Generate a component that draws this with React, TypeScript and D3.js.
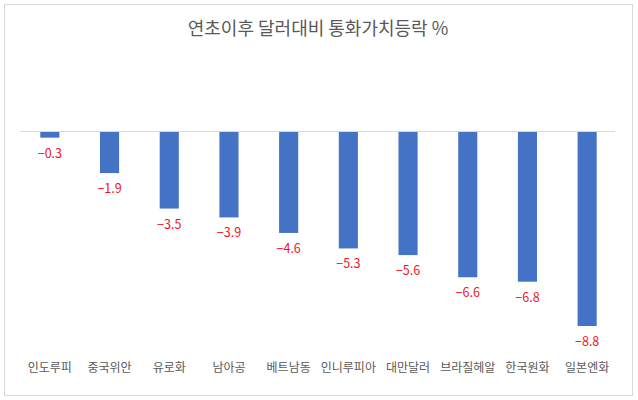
import React from "react";
import * as d3 from "d3";

const categories = ["인도루피", "중국위안", "유로화", "남아공", "베트남동", "인니루피아", "대만달러", "브라질헤알", "한국원화", "일본엔화"];
const values = [-0.3, -1.9, -3.5, -3.9, -4.6, -5.3, -5.6, -6.6, -6.8, -8.8];
const title = "연초이후 달러대비 통화가치등락 %";

const W = 638;
const H = 400;
const font = "'Noto Sans CJK KR', 'Noto Sans', sans-serif";

export default function App() {
  const x = d3.scaleBand<string>().domain(categories).range([20, 617]).paddingInner(0.68).paddingOuter(0.34);
  const y = d3.scaleLinear().domain([0, -8.8]).range([131, 326]);
  const fmt = (v: number) => "\u2212" + Math.abs(v).toFixed(1);
  return (
    <svg width={W} height={H} style={{ position: "absolute", left: 0, top: 0, background: "#fff" }}>
      <rect x={4.5} y={4.5} width={628} height={391} fill="#fff" stroke="#d9d9d9" strokeWidth={1} />
      <text x={318} y={35} textAnchor="middle" fontFamily={font} fontSize={18} fill="#595959">{title}</text>
      {categories.map((c, i) => {
        const v = values[i];
        const bx = x(c)!;
        const y0 = y(0);
        const y1 = y(v);
        return (
          <g key={c}>
            <rect x={bx} y={y0} width={x.bandwidth()} height={y1 - y0} fill="#4472c4" />
            <text x={bx + x.bandwidth() / 2} y={y1 + 20} textAnchor="middle" fontFamily={font} fontSize={12.5} fill="#f0141e">{fmt(v)}</text>
            <text x={bx + x.bandwidth() / 2} y={372} textAnchor="middle" fontFamily={font} fontSize={12} fill="#595959">{c}</text>
          </g>
        );
      })}
      <line x1={20} x2={615} y1={y(0) + 0.5} y2={y(0) + 0.5} stroke="#d9d9d9" strokeWidth={1} />
    </svg>
  );
}
